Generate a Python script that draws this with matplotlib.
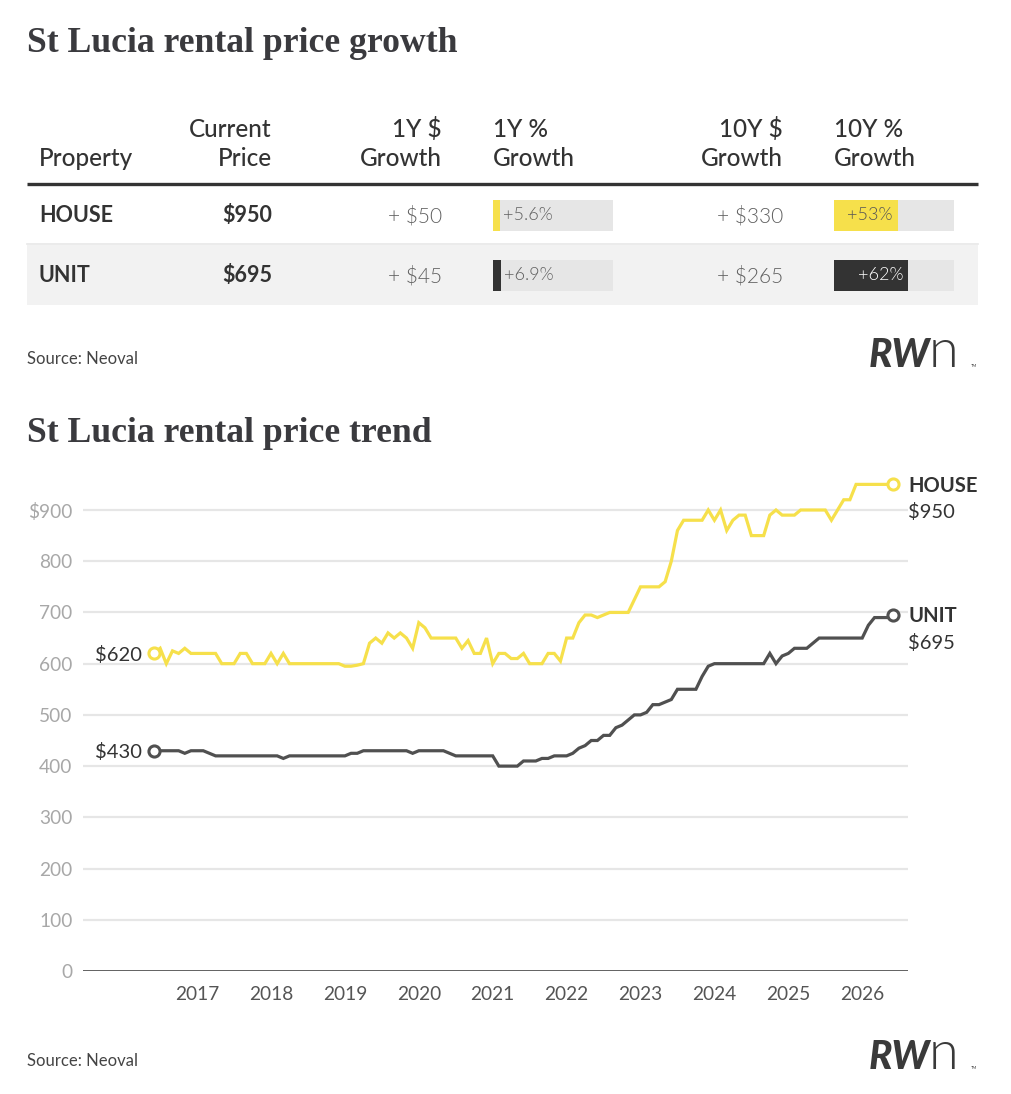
import numpy as np
import matplotlib
matplotlib.use("Agg")
import matplotlib.pyplot as plt

W, H = 1012, 1094

# ---- table data ----
properties = ["HOUSE", "UNIT"]
current_price = [950, 695]
growth_1y_dollar = [50, 45]
growth_1y_pct = [5.6, 6.9]
growth_10y_dollar = [330, 265]
growth_10y_pct = [53, 62]

# ---- monthly trend, Jun 2016 .. Jun 2026 ----
start_year = 2016 + 5 / 12
house = [620, 630, 600, 625, 620, 630, 620, 620, 620, 620,
         620, 600, 600, 600, 620, 620, 600, 600, 600, 620,
         600, 620, 600, 600, 600, 600, 600, 600, 600, 600,
         600, 595, 595, 597, 600, 640, 650, 640, 660, 650,
         660, 650, 630, 680, 670, 650, 650, 650, 650, 650,
         630, 645, 620, 620, 650, 600, 620, 620, 610, 610,
         620, 600, 600, 600, 620, 620, 605, 650, 650, 680,
         695, 695, 690, 695, 700, 700, 700, 700, 725, 750,
         750, 750, 750, 760, 800, 860, 880, 880, 880, 880,
         900, 880, 900, 860, 880, 890, 890, 850, 850, 850,
         890, 900, 890, 890, 890, 900, 900, 900, 900, 900,
         880, 900, 920, 920, 950, 950, 950, 950, 950, 950,
         950]
unit = [430, 430, 430, 430, 430, 425, 430, 430, 430, 425,
        420, 420, 420, 420, 420, 420, 420, 420, 420, 420,
        420, 415, 420, 420, 420, 420, 420, 420, 420, 420,
        420, 420, 425, 425, 430, 430, 430, 430, 430, 430,
        430, 430, 425, 430, 430, 430, 430, 430, 425, 420,
        420, 420, 420, 420, 420, 420, 400, 400, 400, 400,
        410, 410, 410, 415, 415, 420, 420, 420, 425, 435,
        440, 450, 450, 460, 460, 475, 480, 490, 500, 500,
        505, 520, 520, 525, 530, 550, 550, 550, 550, 575,
        595, 600, 600, 600, 600, 600, 600, 600, 600, 600,
        620, 600, 615, 620, 630, 630, 630, 640, 650, 650,
        650, 650, 650, 650, 650, 650, 675, 690, 690, 690,
        695]
year_ticks = list(range(2017, 2027))
y_ticks = [0, 100, 200, 300, 400, 500, 600, 700, 800, 900]

years = start_year + np.arange(len(house)) / 12

YELLOW = "#f6e04b"
DARK = "#505050"
TEXT = "#333333"
SERIF = "Liberation Serif"
SANS = "Lato"

fig = plt.figure(figsize=(W / 100, H / 100), dpi=100)
fig.patch.set_facecolor("white")


def fx(x):
    return x / W


def fy(y):
    return 1 - y / H


def pxbox(x0, y0, x1, y1):
    return [fx(x0), fy(y1), (x1 - x0) / W, (y1 - y0) / H]


# overlay in pixel coordinates for the table layout
lay = fig.add_axes([0, 0, 1, 1])
lay.set_xlim(0, W)
lay.set_ylim(H, 0)
lay.axis("off")

lay.text(27, 52, "St Lucia rental price growth", family=SERIF, weight="bold",
         fontsize=25.7, color="#3a3a3e", va="baseline")
lay.text(27, 442, "St Lucia rental price trend", family=SERIF, weight="bold",
         fontsize=25.7, color="#3a3a3e", va="baseline")

# header
hdr = dict(family=SANS, fontsize=17.5, color=TEXT, weight=500, va="baseline")
lay.text(39, 166, "Property", ha="left", **hdr)
lay.text(272, 137, "Current", ha="right", **hdr)
lay.text(272, 166, "Price", ha="right", **hdr)
lay.text(442, 137, "1Y $", ha="right", **hdr)
lay.text(442, 166, "Growth", ha="right", **hdr)
lay.text(493, 137, "1Y %", ha="left", **hdr)
lay.text(493, 166, "Growth", ha="left", **hdr)
lay.text(783, 137, "10Y $", ha="right", **hdr)
lay.text(783, 166, "Growth", ha="right", **hdr)
lay.text(834, 137, "10Y %", ha="left", **hdr)
lay.text(834, 166, "Growth", ha="left", **hdr)
lay.plot([27, 978], [184, 184], color="#333333", lw=2.4, solid_capstyle="butt")

row_y = [215, 275]
row_h = 60
for i, name in enumerate(properties):
    cy = row_y[i]
    if i % 2 == 1:
        lay.add_patch(plt.Rectangle((27, cy - row_h / 2), 951, row_h,
                                    facecolor="#f2f2f2", edgecolor="none"))
    else:
        lay.plot([27, 978], [cy + row_h / 2 - 1, cy + row_h / 2 - 1],
                 color="#e8e8e8", lw=1.2)
    lay.text(39, cy + 1, name, family=SANS, weight="bold", fontsize=15.5,
             color=TEXT, ha="left", va="center")
    lay.text(272, cy + 1, f"${current_price[i]}", family=SANS, weight="bold",
             fontsize=15.5, color=TEXT, ha="right", va="center")
    lay.text(442, cy + 1, f"+ ${growth_1y_dollar[i]}", family=SANS,
             weight=300, fontsize=15, color="#606060", ha="right",
             va="center")
    lay.text(783, cy + 1, f"+ ${growth_10y_dollar[i]}", family=SANS,
             weight=300, fontsize=15, color="#606060", ha="right",
             va="center")

    bar_col = YELLOW if i == 0 else "#333333"
    for x0, pct, fmt in [(493, growth_1y_pct[i], "+{:.1f}%"),
                         (834, growth_10y_pct[i], "+{:.0f}%")]:
        bax = fig.add_axes(pxbox(x0, cy - 15, x0 + 120, cy + 16))
        bax.set_xlim(0, 100)
        bax.set_ylim(0, 1)
        bax.axis("off")
        bax.barh(0.5, 100, height=1, color="#e6e6e6", align="center")
        bax.barh(0.5, pct, height=1, color=bar_col, align="center")
        label = fmt.format(pct)
        if pct > 30:
            tc = "white" if i == 1 else "#555555"
            bax.text(pct - 4, 0.5, label, ha="right", va="center", family=SANS,
                     weight=300, fontsize=13, color=tc)
        else:
            bax.text(pct + 2.5, 0.5, label, ha="left", va="center", family=SANS,
                     weight=300, fontsize=13, color="#606060")


def logo(y):
    lay.text(930, y, "RW", family=SANS, weight="black", style="italic",
             fontsize=28, color="#3a3a3a", ha="right", va="baseline")
    lay.text(929, y, "n", family=SANS, weight=300,
             fontsize=39, color="#3a3a3a", ha="left", va="baseline")
    lay.text(971, y, "TM", family=SANS, fontsize=3, color="#3a3a3a",
             ha="left", va="baseline")


lay.text(27, 364, "Source: Neoval", family=SANS, fontsize=12, color="#444444",
         va="baseline")
lay.text(27, 1066, "Source: Neoval", family=SANS, fontsize=12, color="#444444",
         va="baseline")
logo(367)
logo(1069)

# ---- trend chart ----
y_top = 1000
x_left_px, x_right_px = 83, 908
y_bot_px = 971
px_per_unit = (971 - 510) / 900
y_top_px = y_bot_px - y_top * px_per_unit
ax = fig.add_axes(pxbox(x_left_px, y_top_px, x_right_px, y_bot_px))
px_per_year = 73.9
x0_year = start_year - (154 - x_left_px) / px_per_year
x1_year = x0_year + (x_right_px - x_left_px) / px_per_year
ax.set_xlim(x0_year, x1_year)
ax.set_ylim(0, y_top)
for s in ax.spines.values():
    s.set_visible(False)
ax.set_yticks(y_ticks)
ax.set_yticklabels([f"${v}" if v == 900 else str(v) for v in y_ticks])
ax.set_xticks(year_ticks)
ax.set_xticklabels([str(y) for y in year_ticks])
ax.tick_params(axis="y", length=0, pad=7.5, labelsize=13.8, labelcolor="#a8a8a8")
ax.tick_params(axis="x", length=0, pad=11, labelsize=13.8, labelcolor="#555555")
for lab in ax.get_xticklabels() + ax.get_yticklabels():
    lab.set_family(SANS)
for v in y_ticks[1:]:
    ax.axhline(v, color="#e6e6e6", lw=1.6, zorder=0)
ax.axhline(0, color="#333333", lw=1.8, zorder=1)

for series, col, name in [(house, YELLOW, "HOUSE"), (unit, DARK, "UNIT")]:
    ax.plot(years, series, color=col, lw=2.3, zorder=3, clip_on=False,
            solid_joinstyle="miter")
    for idx in (0, -1):
        ax.plot(years[idx], series[idx], "o", ms=8, mfc="white", mec=col,
                mew=2.2, zorder=4, clip_on=False)
    ax.annotate(f"${series[0]}", (years[0], series[0]), xytext=(-9, -1),
                textcoords="offset points", ha="right", va="center",
                family=SANS, fontsize=14.5, color=TEXT)
    ax.annotate(name, (years[-1], series[-1]), xytext=(11, -1),
                textcoords="offset points", ha="left", va="center",
                family=SANS, fontsize=14.5, weight="bold", color=TEXT)
    ax.annotate(f"${series[-1]}", (years[-1], series[-1]), xytext=(11, -20),
                textcoords="offset points", ha="left", va="center",
                family=SANS, fontsize=14.5, color=TEXT)

fig.savefig("out.png", dpi=100, facecolor="white")
